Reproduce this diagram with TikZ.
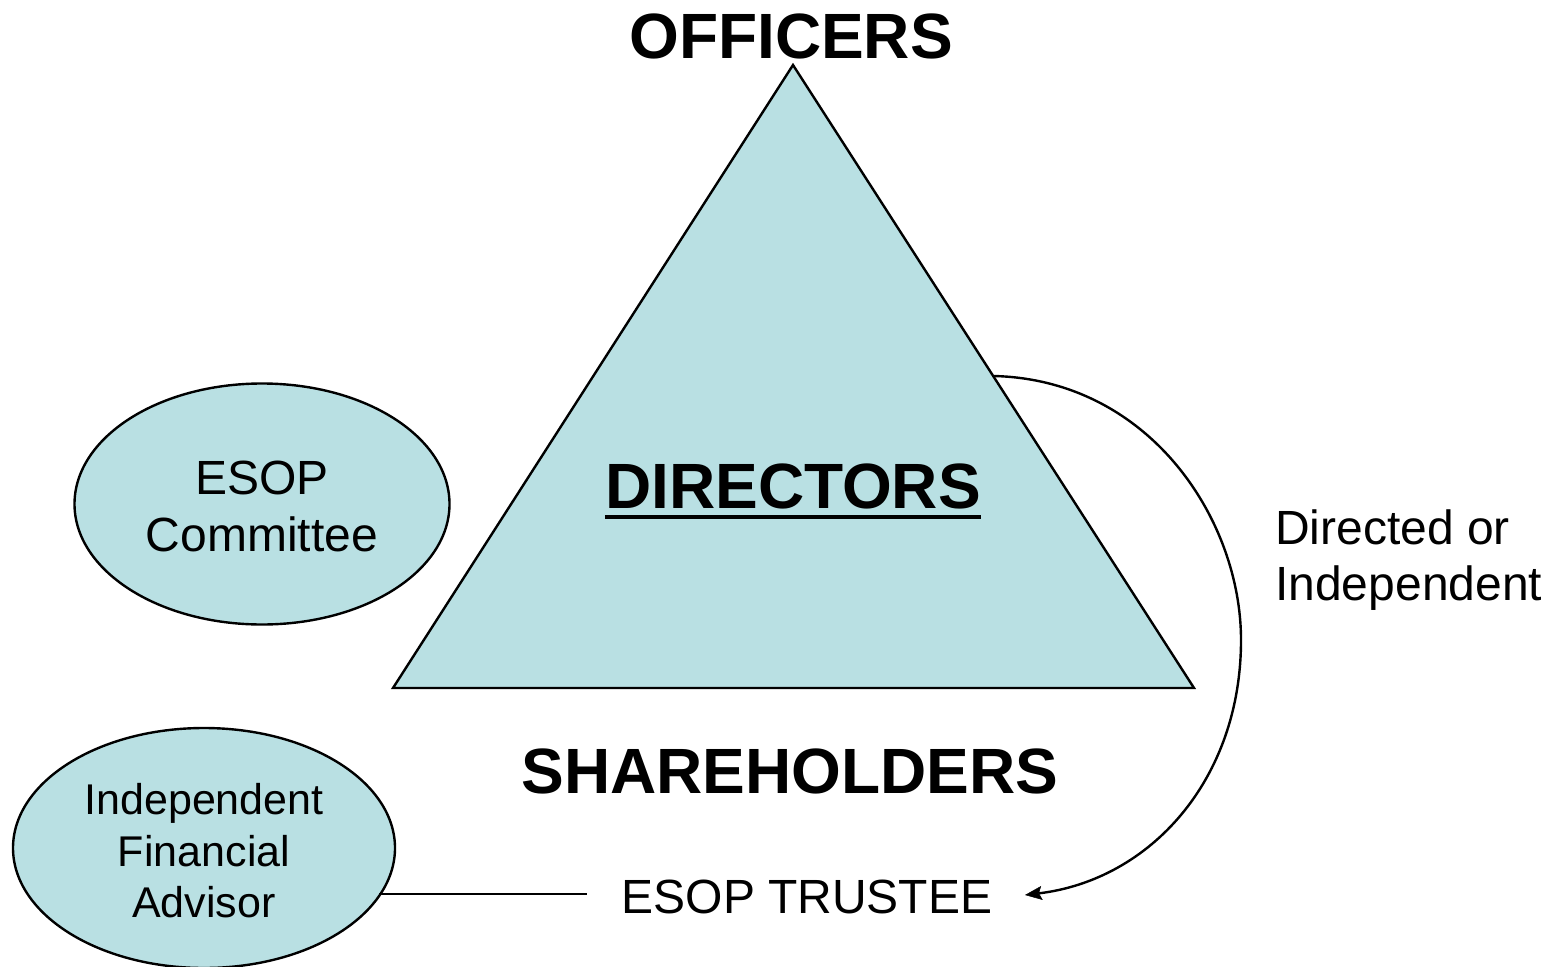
\documentclass[tikz,border=0pt]{standalone}
\usepackage{fontspec}
\setmainfont{Liberation Sans}
\usetikzlibrary{shapes.geometric,arrows.meta}
\definecolor{paleblue}{RGB}{185,224,227}
\tikzset{
  bigbold/.style={font=\fontsize{64}{77}\selectfont\bfseries, inner sep=0pt, anchor=base},
  midtext/.style={font=\fontsize{48}{57}\selectfont, inner sep=0pt, anchor=base},
  smalltext/.style={font=\fontsize{43}{52}\selectfont, inner sep=0pt, anchor=base},
  bubble/.style={ellipse, draw=black, line width=2.4pt, fill=paleblue, inner sep=0pt},
  connector/.style={draw=black, line width=2.4pt}
}
\begin{document}
\begin{tikzpicture}[x=1pt,y=-1pt]
\useasboundingbox (0,0) rectangle (1554,966);
% triangle
\coordinate (apex) at (793,65);
\coordinate (bl) at (393,688);
\coordinate (br) at (1194,688);
\filldraw[fill=paleblue, draw=black, line width=2.4pt, line join=miter] (apex) -- (bl) -- (br) -- cycle;
\coordinate (cstart) at (994,376);
\coordinate (cmid) at (1241,640);
% texts
\node[bigbold] (officers) at (791,59) {OFFICERS};
\node[bigbold] (directors) at (793,508) {DIRECTORS};
\draw[line width=4pt] ([yshift=-9pt]directors.base west) -- ([yshift=-9pt]directors.base east);
\node[bigbold] (shareholders) at (790,793) {SHAREHOLDERS};
% ellipses
\node[bubble, minimum width=375pt, minimum height=241pt] (committee) at (262,504) {};
\node[midtext] (esop1) at (262,494) {ESOP};
\node[midtext] (esop2) at (262,551) {Committee};
\node[bubble, minimum width=382pt, minimum height=240pt] (ifa) at (204,848) {};
\node[smalltext] (ifa1) at (204,814) {Independent};
\node[smalltext] (ifa2) at (204,866) {Financial};
\node[smalltext] (ifa3) at (204,917) {Advisor};
% trustee
\node[midtext] (trustee) at (807,913) {ESOP TRUSTEE};
\coordinate (linestart) at ([xshift=175pt,yshift=-46pt]ifa.center);
\coordinate (lineend) at (587,894);
\draw[connector] (linestart) -- (lineend);
% right labels
\node[midtext, anchor=base west] (dir1) at (1275,544) {Directed or};
\node[midtext, anchor=base west] (dir2) at (1275,600) {Independent};
% curved arrow
\coordinate (tip) at (1025,895);
\draw[connector, -{Stealth[length=17pt,width=14pt,inset=3pt,line width=0.5pt,fill=black]}] (cstart) .. controls (1150,380) and (1241,520) .. (cmid) .. controls (1241,780) and (1150,880) .. (tip);
\end{tikzpicture}
\end{document}
